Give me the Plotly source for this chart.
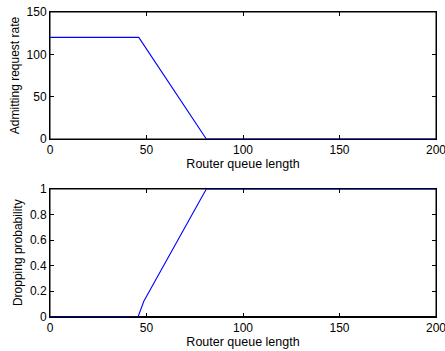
import plotly.graph_objects as go

# Data
queue_top = [0, 46, 81, 200]
admit_rate = [120, 120, 0, 0]
queue_bot = [0, 45.7, 48.6, 81, 200]
drop_prob = [0, 0, 0.12, 1, 1]

x_ticks = [0, 50, 100, 150, 200]
y1_ticks = [0, 50, 100, 150]
y2_ticks = [0, 0.2, 0.4, 0.6, 0.8, 1]
y2_labels = ["0", "0.2", "0.4", "0.6", "0.8", "1"]

W, H = 445, 351


def fx(p):
    return p / W


def fy(p):
    return 1 - p / H


tick_fnt = dict(family="Liberation Sans, Arial, Helvetica", size=12, color="black")
title_fnt = dict(family="Liberation Sans, Arial, Helvetica", size=12.5, color="black")

fig = go.Figure()
fig.add_trace(go.Scatter(x=queue_top, y=admit_rate, mode="lines", cliponaxis=False,
                         line=dict(color="#0000ff", width=1.1), xaxis="x", yaxis="y", showlegend=False))
fig.add_trace(go.Scatter(x=queue_bot, y=drop_prob, mode="lines", cliponaxis=False,
                         line=dict(color="#0000ff", width=1.1), xaxis="x2", yaxis="y2", showlegend=False))

xdom = [fx(50), fx(436)]
common_x = dict(range=[0, 200], tickvals=x_ticks, ticks="inside", ticklen=4, tickcolor="black",
                showline=True, linecolor="black", linewidth=1, mirror="ticks", showgrid=False,
                zeroline=False, tickfont=tick_fnt, domain=xdom, automargin=False,
                ticklabeloverflow="allow")
common_y = dict(ticks="inside", ticklen=4, tickcolor="black", showline=True, linecolor="black",
                linewidth=1, mirror="ticks", showgrid=False, zeroline=False, tickfont=tick_fnt,
                automargin=False, ticklabeloverflow="allow")

fig.update_layout(
    width=W, height=H,
    margin=dict(l=0, r=0, t=0, b=0),
    paper_bgcolor="white", plot_bgcolor="white",
    font=tick_fnt,
    xaxis=dict(**common_x, anchor="y",
               title=dict(text="Router queue length", font=title_fnt, standoff=2)),
    yaxis=dict(**common_y, range=[0, 150], tickvals=y1_ticks, anchor="x",
               domain=[fy(139), fy(12)],
               title=dict(text="Admitting request rate", font=tick_fnt, standoff=4)),
    xaxis2=dict(**common_x, anchor="y2",
                title=dict(text="Router queue length", font=title_fnt, standoff=2)),
    yaxis2=dict(**common_y, range=[0, 1], tickvals=y2_ticks, ticktext=y2_labels, anchor="x2",
                domain=[fy(316.5), fy(189)],
                title=dict(text="Dropping probability", font=tick_fnt, standoff=4)),
)

# box frames around both axes (drawn beneath the data lines)
for xr, yr in (("x domain", "y domain"), ("x2 domain", "y2 domain")):
    fig.add_shape(type="rect", xref=xr, yref=yr, x0=0, x1=1, y0=0, y1=1,
                  line=dict(color="black", width=1), fillcolor="rgba(0,0,0,0)", layer="below")

fig.write_html("out.html", config={"displayModeBar": False},
               post_script="document.body.style.margin='0';")
